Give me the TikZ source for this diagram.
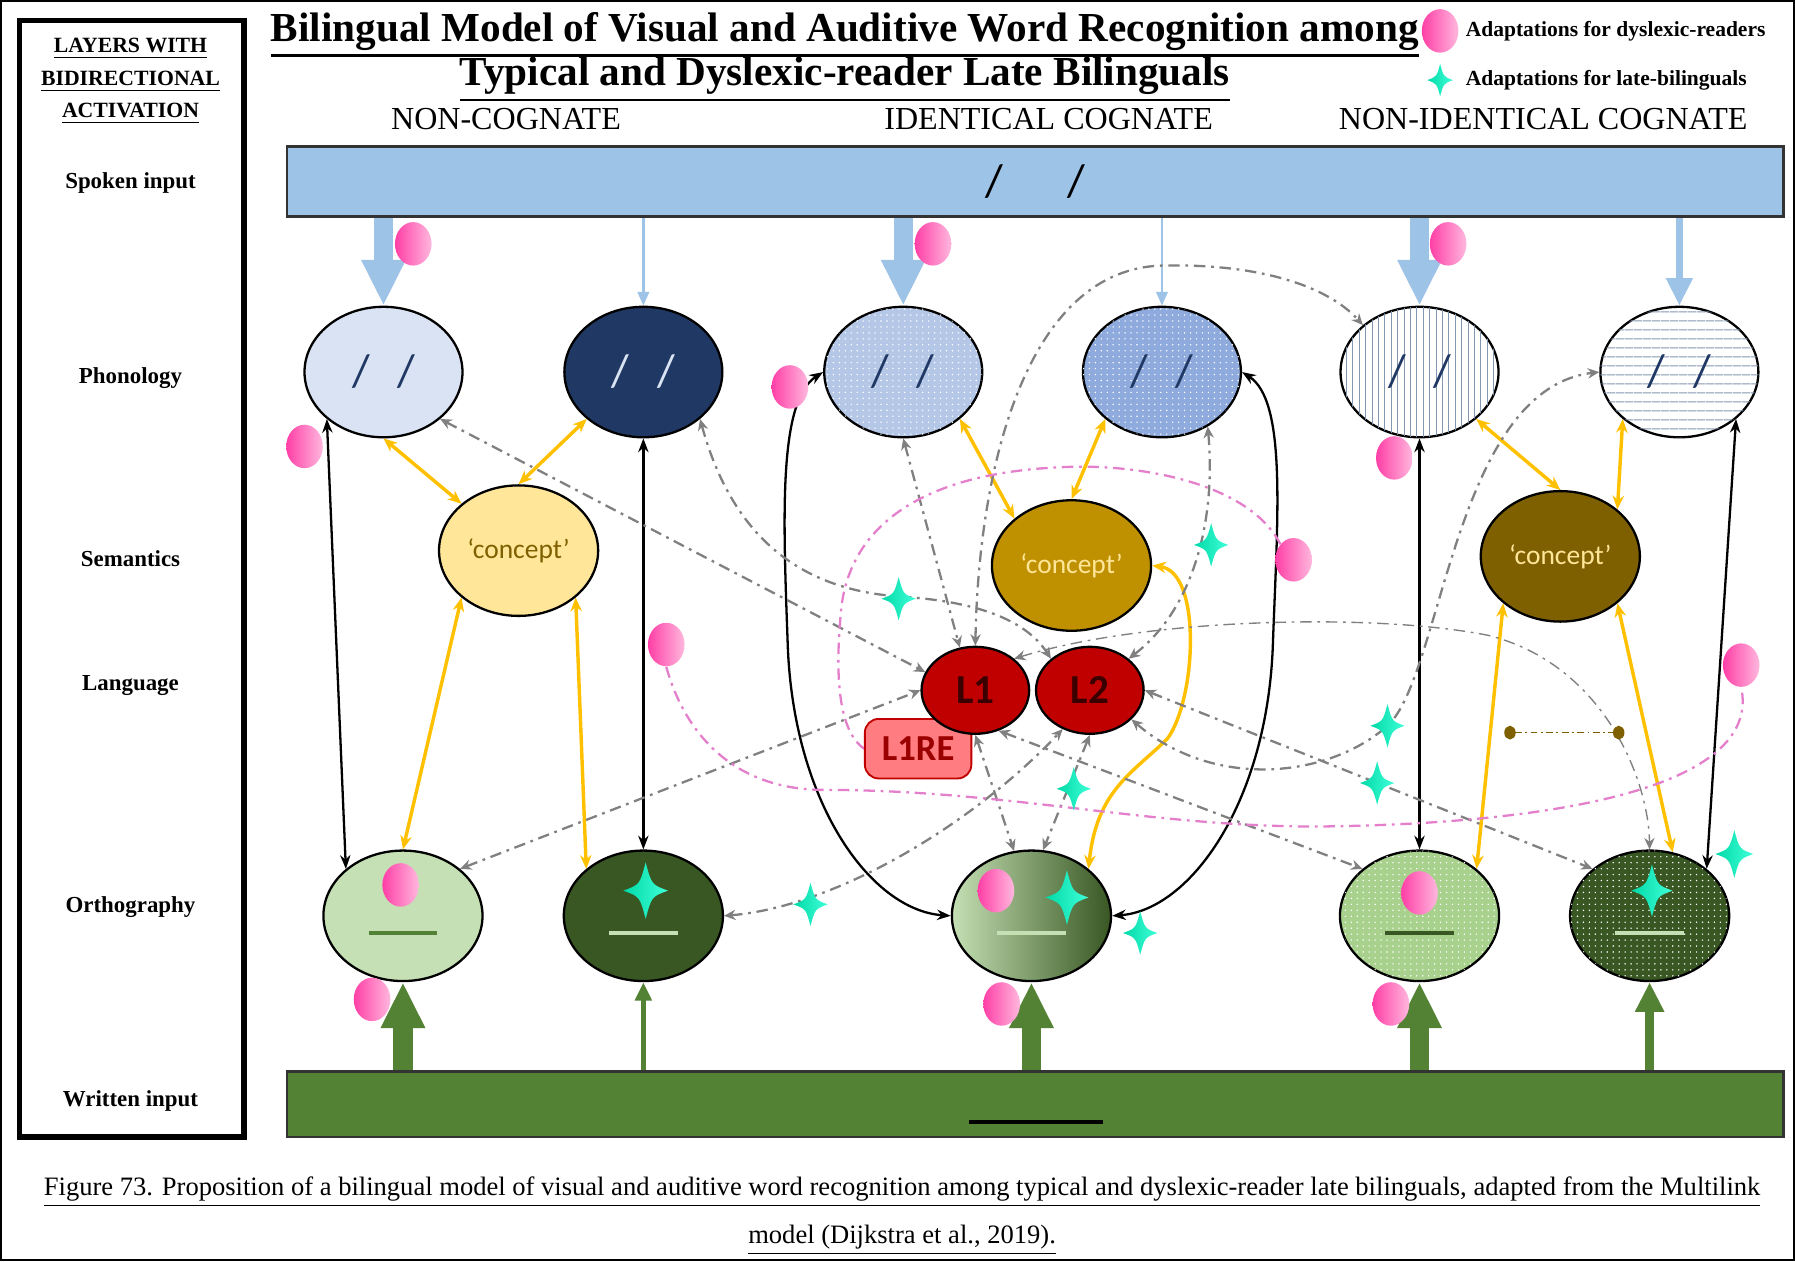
\documentclass[tikz,border=0pt]{standalone}
\usepackage{fontspec}
\setmainfont{Liberation Serif}
\newfontfamily\calibfont{Carlito}
\usepackage{tikz}
\usetikzlibrary{arrows.meta,shapes.geometric,patterns.meta,backgrounds}

\definecolor{spokblue}{HTML}{9DC3E6}
\definecolor{phonA}{HTML}{DAE3F3}
\definecolor{phonB}{HTML}{203864}
\definecolor{phonC}{HTML}{B4C7E7}
\definecolor{phonD}{HTML}{8FAADC}
\definecolor{hatchblue}{HTML}{8497B0}
\definecolor{concA}{HTML}{FFE699}
\definecolor{concB}{HTML}{BF9000}
\definecolor{concC}{HTML}{7F6000}
\definecolor{langred}{HTML}{C00000}
\definecolor{langdark}{HTML}{3A0000}
\definecolor{resalmon}{HTML}{FF7C80}
\definecolor{orthA}{HTML}{C5E0B4}
\definecolor{orthB}{HTML}{385723}
\definecolor{orthC}{HTML}{A9D18E}
\definecolor{writgreen}{HTML}{548235}
\definecolor{linkgold}{HTML}{FFC000}
\definecolor{linkgray}{HTML}{808080}
\definecolor{linkpink}{HTML}{E47FCB}
\definecolor{dyspink}{HTML}{FF3FA6}
\definecolor{dyslight}{HTML}{FFB8DE}
\definecolor{lbcyan}{HTML}{00D9A8}
\definecolor{lblight}{HTML}{40FFD8}

\newcommand\ulbox[2][0.5pt]{\setbox0\hbox{#2}\vtop{\copy0\kern1.6pt\hrule height #1 width \wd0}}
\newcommand\phonslash[1][12pt]{/\hspace{#1}/}

\tikzset{
  pics/lbstar/.style={code={
    \shade[left color=lbcyan,right color=lblight]
      (0,-19) .. controls (4,-4) .. (15,0) .. controls (4,4) .. (0,19)
      .. controls (-4,4) .. (-15,0) .. controls (-4,-4) .. (0,-19) -- cycle;}}
}

\begin{document}
\begin{tikzpicture}[x=0.5pt,y=-0.5pt,
  ttl/.style={font=\bfseries\fontsize{18}{20}\selectfont,inner sep=0pt,anchor=base},
  colhd/.style={font=\fontsize{14}{16}\selectfont,inner sep=0pt},
  layer/.style={font=\bfseries\fontsize{10}{12}\selectfont,inner sep=0pt},
  layhd/.style={font=\bfseries\fontsize{9.5}{11}\selectfont,inner sep=0pt,anchor=base},
  leg/.style={font=\bfseries\fontsize{9.4}{10}\selectfont,inner sep=0pt,anchor=west},
  capt/.style={font=\fontsize{11.6}{13}\selectfont,inner sep=0pt,anchor=base},
  bar/.style={draw=black!80,line width=1pt,minimum width=653.5pt,inner sep=0pt},
  phon/.style={ellipse,draw,line width=1pt,minimum width=69pt,minimum height=57pt,inner sep=0pt,
    font=\calibfont\fontsize{20}{20}\selectfont},
  conc/.style={ellipse,draw,line width=1pt,minimum width=69.5pt,minimum height=57pt,inner sep=0pt,
    font=\calibfont\fontsize{12}{14}\selectfont},
  lang/.style={ellipse,draw,line width=1pt,fill=langred,text=langdark,minimum width=47pt,
    minimum height=38pt,inner sep=0pt,font=\calibfont\bfseries\fontsize{18}{18}\selectfont},
  resid/.style={rectangle,rounded corners=6pt,draw=langred,line width=0.8pt,fill=resalmon,
    text=langred!80!black,minimum width=46.5pt,minimum height=26pt,inner sep=0pt,
    font=\calibfont\bfseries\fontsize{16}{16}\selectfont},
  orth/.style={ellipse,draw,line width=1pt,minimum width=69.5pt,minimum height=57pt,inner sep=0pt},
  dotsW/.style={postaction={pattern={Dots[radius=0.35pt,distance=2.6pt]},pattern color=white}},
  vlines/.style={postaction={pattern={Lines[angle=90,distance=2.8pt,line width=0.35pt]},pattern color=hatchblue}},
  hlines/.style={postaction={pattern={Lines[distance=4pt,line width=0.5pt]},pattern color=hatchblue}},
  dys/.style={ellipse,minimum width=16pt,minimum height=19pt,inner sep=0pt,left color=dyspink,right color=dyslight},
  spokthick/.style={draw=spokblue,line width=8.5pt,-{Triangle[width=18pt,length=20pt]}},
  spokmid/.style={draw=spokblue,line width=3pt,-{Triangle[width=11pt,length=12pt]}},
  spokthin/.style={draw=spokblue,line width=1pt,-{Triangle[width=5pt,length=6pt]}},
  writthick/.style={draw=writgreen,line width=8.5pt,-{Triangle[width=18pt,length=20pt]}},
  writmid/.style={draw=writgreen,line width=4pt,-{Triangle[width=12pt,length=13pt]}},
  writthin/.style={draw=writgreen,line width=2pt,-{Triangle[width=7pt,length=8pt]}},
  blk/.style={<->,line width=1pt,>={Stealth[length=6pt,width=4.5pt]}},
  gold/.style={<->,draw=linkgold,line width=1.5pt,>={Stealth[length=6pt,width=5pt]}},
  gry/.style={<->,draw=linkgray,line width=1pt,dash pattern=on 5pt off 2.5pt on 1.2pt off 2.5pt,
    >={Stealth[length=5pt,width=4.5pt]}},
  pnk/.style={draw=linkpink,line width=1pt,dash pattern=on 5pt off 2.5pt on 1.2pt off 2.5pt},
  brn/.style={draw=concC,line width=0.6pt,dash pattern=on 3pt off 1.5pt on 0.8pt off 1.5pt,
    {Circle[length=5pt,width=6pt]}-{Circle[length=5pt,width=6pt]}},
  >={Stealth[]}]
\useasboundingbox (0,0) rectangle (1568,1102);
\draw[line width=0.8pt] (1,1) rectangle (1567,1101);
% title and legend
\node[ttl] (ttlA) at (738,36) {\ulbox[1.2pt]{Bilingual Model of Visual and Auditive Word Recognition among}};
\node[ttl] (ttlB) at (738,75) {\ulbox[1.2pt]{Typical and Dyslexic-reader Late Bilinguals}};
\node[dys] (legA) at (1258,27) {};
\node[leg] (legAtxt) at (1280,27) {Adaptations for dyslexic-readers};
\pic[scale=0.75] at (1258,70) {lbstar};
\node[leg] (legBtxt) at (1280,70) {Adaptations for late-bilinguals};
\node[colhd] (hdA) at (442,104) {NON-COGNATE};
\node[colhd] (hdB) at (916,104) {IDENTICAL COGNATE};
\node[colhd] (hdC) at (1348,104) {NON-IDENTICAL COGNATE};
% layers column
\node[draw,line width=2.5pt,minimum width=98pt,minimum height=487.5pt,inner sep=0pt] (layerbox) at (115,505.5) {};
\node[layhd] (layA) at (114,46) {\ulbox{LAYERS WITH}};
\node[layhd] (layB) at (114,75) {\ulbox{BIDIRECTIONAL}};
\node[layhd] (layC) at (114,103) {\ulbox{ACTIVATION}};
\node[layer] (laySp) at (114,160) {Spoken input};
\node[layer] (layPh) at (114,330) {Phonology};
\node[layer] (laySe) at (114,488) {Semantics};
\node[layer] (layLa) at (114,599) {Language};
\node[layer] (layOr) at (114,792) {Orthography};
\node[layer] (layWr) at (114,962) {Written input};
% input bars
\node[bar,fill=spokblue,minimum height=30.5pt,font=\calibfont\fontsize{20}{20}\selectfont] (spoken) at (904.5,158.5) {\phonslash[28pt]};
\node[bar,fill=writgreen,minimum height=28.5pt] (written) at (904.5,964.5) {};
\draw[line width=1.5pt] ([yshift=-7.75pt]written.center) ++(-58,0) -- ++(117,0);
% phonology
\node[phon,fill=phonA,text=phonB] (p1) at (335,325) {\phonslash};
\node[phon,fill=phonB,text=phonA] (p2) at (562,325) {\phonslash};
\node[phon,fill=phonC,dotsW,text=phonB] (p3) at (789,325) {\phonslash};
\node[phon,fill=phonD,dotsW,text=phonB] (p4) at (1015,325) {\phonslash};
\node[phon,fill=white,vlines,text=phonB] (p5) at (1240,325) {\phonslash};
\node[phon,fill=white,hlines,text=phonB] (p6) at (1467,325) {\phonslash};
% semantics
\node[conc,fill=concA,text=concC] (c1) at (453,481) {‘concept’};
\node[conc,fill=concB,text=concA] (c2) at (936,494) {‘concept’};
\node[conc,fill=concC,text=concA] (c3) at (1363,486) {‘concept’};
% language
\node[resid] (L1RE) at (802,654) {L1RE};
\node[lang] (L1) at (852,603) {L1};
\node[lang] (L2) at (952,603) {L2};
% orthography
\node[orth,fill=orthA] (o1) at (352,800) {};
\node[orth,fill=orthB] (o2) at (562,800) {};
\node[orth,left color=orthA,right color=orthB] (o3) at (901,800) {};
\node[orth,fill=orthC,dotsW] (o4) at (1240,800) {};
\node[orth,fill=orthB,dotsW] (o5) at (1441,800) {};
\foreach \o/\c in {o1/writgreen,o2/orthA,o3/orthA,o4/orthB,o5/orthA}
  \draw[line width=1.5pt,\c] ([yshift=-7.5pt]\o.center) ++(-30,0) -- ++(60,0);
\begin{scope}[on background layer]
% input arrows
\foreach \p in {p1,p3,p5} \draw[spokthick] (\p.north |- spoken.south) -- (\p.north);
\foreach \p in {p2,p4} \draw[spokthin] (\p.north |- spoken.south) -- (\p.north);
\draw[spokmid] (p6.north |- spoken.south) -- (p6.north);
\foreach \o in {o1,o3,o4} \draw[writthick] (\o.south |- written.north) -- (\o.south);
\draw[writthin] (o2.south |- written.north) -- (o2.south);
\draw[writmid] (o5.south |- written.north) -- (o5.south);
% phonology - orthography
\draw[blk] (p1.south west) -- (o1.north west);
\draw[blk] (p2.south) -- (o2.north);
\draw[blk] (p5.south) -- (o4.north);
\draw[blk] (p6.south east) -- (o5.north east);
\draw[blk] (p3.west) .. controls (680,350) and (684,450) .. (688,560) .. controls (692,700) and (760,795) .. (o3.west);
\draw[blk] (p4.east) .. controls (1124,350) and (1116,450) .. (1112,560) .. controls (1108,700) and (1040,795) .. (o3.east);
% semantic links
\draw[gold] (p1.south) -- (c1.north west);
\draw[gold] (p2.south west) -- (c1.north);
\draw[gold] (c1.south west) -- (o1.north);
\draw[gold] (c1.south east) -- (o2.north west);
\draw[gold] (p3.south east) -- (c2.north west);
\draw[gold] (p4.south west) -- (c2.north);
\draw[gold] (c2.east) .. controls (1050,500) and (1045,610) .. (1020,645) .. controls (990,675) and (958,690) .. (o3.north east);
\draw[gold] (p5.south east) -- (c3.north);
\draw[gold] (p6.south west) -- (c3.north east);
\draw[gold] (c3.south west) -- (o4.north east);
\draw[gold] (c3.south east) -- (o5.70);
% language links
\draw[gry] (p1.south east) -- (L1.160);
\draw[gry] (p2.south east) .. controls (640,470) and (700,515) .. (785,521) .. controls (850,525) and (895,540) .. (L2.north west);
\draw[gry] (p3.south) -- (L1.110);
\draw[gry] (L1.north) .. controls (855,400) and (900,235) .. (1015,232) .. controls (1100,230) and (1160,250) .. (p5.north west);
\draw[gry] (p4.-50) .. controls (1062,450) and (1045,530) .. (L2.north east);
\draw[gry] (o1.north east) -- (L1.west);
\draw[gry] (o2.east) .. controls (730,792) and (850,720) .. (L2.235);
\draw[gry] (L1.south) -- (o3.105);
\draw[gry] (L2.south) -- (o3.80);
\draw[gry] (L1.-60) -- (o4.north west);
\draw[gry] (L2.east) -- (o5.north west);
\draw[gry] (L2.-35) .. controls (1060,690) and (1160,680) .. (1212,634) .. controls (1260,590) and (1270,340) .. (p6.west);
\draw[gry,line width=0.6pt] (L1.north east) .. controls (1000,540) and (1200,535) .. (1300,555) .. controls (1400,580) and (1440,680) .. (o5.north);
\coordinate (brA) at (1314,640);
\coordinate (brB) at (1419,640);
\draw[brn] (brA) -- (brB);
\end{scope}
% dyslexic-reader adaptations
\foreach \n/\x/\y in {dyA1/361/213,dyA2/815/213,dyA3/1265/213,dyB/266/390,dyD/690/338,dyG/1218/400,
  dyE/1130/489,dyC/582/563,dyF/1521/581,dyO1/350/773,dyO3/870/778,dyO4/1240/780,
  dyW1/325/873,dyW3/875/877,dyW4/1215/877}
  \node[dys] (\n) at (\x,\y) {};
\begin{scope}[on background layer]
\draw[pnk] (dyE.north west) .. controls (1090,420) and (990,405) .. (930,408) .. controls (820,412) and (745,450) .. (735,530) .. controls (728,600) and (735,640) .. (L1RE.west);
\draw[pnk] (dyC.south) .. controls (598,640) and (640,690) .. (720,690) .. controls (880,690) and (1000,722) .. (1150,722) .. controls (1350,720) and (1540,690) .. (dyF.south);
\end{scope}
% late-bilingual adaptations
\foreach \x/\y/\s in {785/523/1,1058/476/1,1212/634/1,1203/684/1,938/689/1,708/790/1,996/815/1,
  564/778/1.3,932/784/1.25,1443/778/1.2,1515/746/1.1}
  \pic[scale=\s] at (\x,\y) {lbstar};
% caption
\node[capt] (capA) at (788,1044) {\ulbox{Figure 73. Proposition of a bilingual model of visual and auditive word recognition among typical and dyslexic-reader late bilinguals, adapted from the Multilink}};
\node[capt] (capB) at (788,1086) {\ulbox{model (Dijkstra et al., 2019).}};
\end{tikzpicture}
\end{document}
